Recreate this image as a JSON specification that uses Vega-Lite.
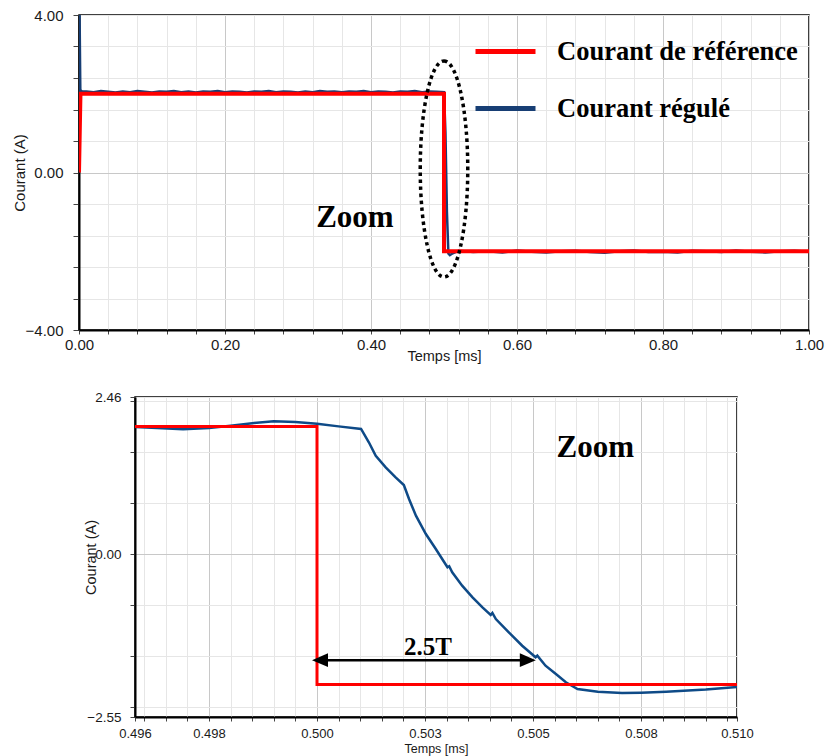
{
  "$schema": "https://vega.github.io/schema/vega-lite/v6.json",
  "padding": {"left": 11, "top": 7, "right": 5, "bottom": 2},
  "background": "white",
  "config": {
    "view": {"stroke": "#000", "strokeWidth": 1.5},
    "font": "Liberation Sans",
    "axis": {"domainColor": "#000", "domainWidth": 2, "tickColor": "#444", "labelColor": "#1a1a1a", "titleColor": "#1a1a1a", "titleFont": "Liberation Sans", "titleFontWeight": "normal", "labelFont": "Liberation Sans", "labelFlush": false, "labelOverlap": false, "gridWidth": 1, "tickCount": 1000}
  },
  "datasets": {
    "top": [
      {"t": 0, "v": 0, "s": "Courant régulé"},
      {"t": 0.0008, "v": 4.0, "s": "Courant régulé"},
      {"t": 0.0018, "v": 2.1, "s": "Courant régulé"},
      {"t": 0.004, "v": 2.06, "s": "Courant régulé"},
      {"t": 0.01, "v": 2.06, "s": "Courant régulé"},
      {"t": 0.02, "v": 2.04, "s": "Courant régulé"},
      {"t": 0.03, "v": 2.07, "s": "Courant régulé"},
      {"t": 0.04, "v": 2.05, "s": "Courant régulé"},
      {"t": 0.05, "v": 2.03, "s": "Courant régulé"},
      {"t": 0.06, "v": 2.06, "s": "Courant régulé"},
      {"t": 0.07, "v": 2.04, "s": "Courant régulé"},
      {"t": 0.08, "v": 2.07, "s": "Courant régulé"},
      {"t": 0.09, "v": 2.05, "s": "Courant régulé"},
      {"t": 0.10, "v": 2.03, "s": "Courant régulé"},
      {"t": 0.11, "v": 2.06, "s": "Courant régulé"},
      {"t": 0.12, "v": 2.05, "s": "Courant régulé"},
      {"t": 0.13, "v": 2.07, "s": "Courant régulé"},
      {"t": 0.14, "v": 2.04, "s": "Courant régulé"},
      {"t": 0.15, "v": 2.06, "s": "Courant régulé"},
      {"t": 0.16, "v": 2.03, "s": "Courant régulé"},
      {"t": 0.17, "v": 2.06, "s": "Courant régulé"},
      {"t": 0.18, "v": 2.05, "s": "Courant régulé"},
      {"t": 0.19, "v": 2.07, "s": "Courant régulé"},
      {"t": 0.20, "v": 2.04, "s": "Courant régulé"},
      {"t": 0.21, "v": 2.06, "s": "Courant régulé"},
      {"t": 0.22, "v": 2.05, "s": "Courant régulé"},
      {"t": 0.23, "v": 2.03, "s": "Courant régulé"},
      {"t": 0.24, "v": 2.06, "s": "Courant régulé"},
      {"t": 0.25, "v": 2.05, "s": "Courant régulé"},
      {"t": 0.26, "v": 2.07, "s": "Courant régulé"},
      {"t": 0.27, "v": 2.04, "s": "Courant régulé"},
      {"t": 0.28, "v": 2.06, "s": "Courant régulé"},
      {"t": 0.29, "v": 2.05, "s": "Courant régulé"},
      {"t": 0.30, "v": 2.03, "s": "Courant régulé"},
      {"t": 0.31, "v": 2.06, "s": "Courant régulé"},
      {"t": 0.32, "v": 2.04, "s": "Courant régulé"},
      {"t": 0.33, "v": 2.07, "s": "Courant régulé"},
      {"t": 0.34, "v": 2.05, "s": "Courant régulé"},
      {"t": 0.35, "v": 2.06, "s": "Courant régulé"},
      {"t": 0.36, "v": 2.04, "s": "Courant régulé"},
      {"t": 0.37, "v": 2.06, "s": "Courant régulé"},
      {"t": 0.38, "v": 2.05, "s": "Courant régulé"},
      {"t": 0.39, "v": 2.07, "s": "Courant régulé"},
      {"t": 0.40, "v": 2.04, "s": "Courant régulé"},
      {"t": 0.41, "v": 2.06, "s": "Courant régulé"},
      {"t": 0.42, "v": 2.05, "s": "Courant régulé"},
      {"t": 0.43, "v": 2.03, "s": "Courant régulé"},
      {"t": 0.44, "v": 2.06, "s": "Courant régulé"},
      {"t": 0.45, "v": 2.05, "s": "Courant régulé"},
      {"t": 0.46, "v": 2.07, "s": "Courant régulé"},
      {"t": 0.47, "v": 2.04, "s": "Courant régulé"},
      {"t": 0.48, "v": 2.06, "s": "Courant régulé"},
      {"t": 0.49, "v": 2.05, "s": "Courant régulé"},
      {"t": 0.5, "v": 2.04, "s": "Courant régulé"},
      {"t": 0.502, "v": 1.0, "s": "Courant régulé"},
      {"t": 0.504, "v": -1.0, "s": "Courant régulé"},
      {"t": 0.506, "v": -2.06, "s": "Courant régulé"},
      {"t": 0.508, "v": -2.1, "s": "Courant régulé"},
      {"t": 0.512, "v": -2.05, "s": "Courant régulé"},
      {"t": 0.52, "v": -1.99, "s": "Courant régulé"},
      {"t": 0.54, "v": -2.02, "s": "Courant régulé"},
      {"t": 0.56, "v": -2.0, "s": "Courant régulé"},
      {"t": 0.58, "v": -2.03, "s": "Courant régulé"},
      {"t": 0.60, "v": -1.98, "s": "Courant régulé"},
      {"t": 0.62, "v": -2.01, "s": "Courant régulé"},
      {"t": 0.64, "v": -2.03, "s": "Courant régulé"},
      {"t": 0.66, "v": -2.0, "s": "Courant régulé"},
      {"t": 0.68, "v": -1.99, "s": "Courant régulé"},
      {"t": 0.70, "v": -2.02, "s": "Courant régulé"},
      {"t": 0.72, "v": -2.04, "s": "Courant régulé"},
      {"t": 0.74, "v": -2.0, "s": "Courant régulé"},
      {"t": 0.76, "v": -1.98, "s": "Courant régulé"},
      {"t": 0.78, "v": -2.02, "s": "Courant régulé"},
      {"t": 0.80, "v": -2.01, "s": "Courant régulé"},
      {"t": 0.82, "v": -2.03, "s": "Courant régulé"},
      {"t": 0.84, "v": -1.99, "s": "Courant régulé"},
      {"t": 0.86, "v": -2.0, "s": "Courant régulé"},
      {"t": 0.88, "v": -2.02, "s": "Courant régulé"},
      {"t": 0.90, "v": -1.98, "s": "Courant régulé"},
      {"t": 0.92, "v": -2.01, "s": "Courant régulé"},
      {"t": 0.94, "v": -2.03, "s": "Courant régulé"},
      {"t": 0.96, "v": -2.0, "s": "Courant régulé"},
      {"t": 0.98, "v": -1.99, "s": "Courant régulé"},
      {"t": 1.0, "v": -2.01, "s": "Courant régulé"},
      {"t": 0, "v": 0, "s": "Courant de référence", "i": 0},
      {"t": 0.002, "v": 2.0, "s": "Courant de référence", "i": 1},
      {"t": 0.5, "v": 2.0, "s": "Courant de référence", "i": 2},
      {"t": 0.5, "v": -2.0, "s": "Courant de référence", "i": 3},
      {"t": 1.0, "v": -2.0, "s": "Courant de référence", "i": 4}
    ],
    "zoom": [
      {"t": 0.495787, "v": 1.99, "s": "Courant régulé"},
      {"t": 0.4963, "v": 1.975, "s": "Courant régulé"},
      {"t": 0.4969, "v": 1.955, "s": "Courant régulé"},
      {"t": 0.4975, "v": 1.975, "s": "Courant régulé"},
      {"t": 0.498, "v": 2.01, "s": "Courant régulé"},
      {"t": 0.4985, "v": 2.05, "s": "Courant régulé"},
      {"t": 0.499, "v": 2.08, "s": "Courant régulé"},
      {"t": 0.4995, "v": 2.07, "s": "Courant régulé"},
      {"t": 0.5, "v": 2.04, "s": "Courant régulé"},
      {"t": 0.5005, "v": 2.0, "s": "Courant régulé"},
      {"t": 0.50102, "v": 1.96, "s": "Courant régulé"},
      {"t": 0.5012, "v": 1.751, "s": "Courant régulé"},
      {"t": 0.50136, "v": 1.541, "s": "Courant régulé"},
      {"t": 0.50159, "v": 1.359, "s": "Courant régulé"},
      {"t": 0.50182, "v": 1.203, "s": "Courant régulé"},
      {"t": 0.50201, "v": 1.082, "s": "Courant régulé"},
      {"t": 0.50213, "v": 0.863, "s": "Courant régulé"},
      {"t": 0.50229, "v": 0.602, "s": "Courant régulé"},
      {"t": 0.50252, "v": 0.315, "s": "Courant régulé"},
      {"t": 0.50275, "v": 0.08, "s": "Courant régulé"},
      {"t": 0.50302, "v": -0.206, "s": "Courant régulé"},
      {"t": 0.50306, "v": -0.19, "s": "Courant régulé"},
      {"t": 0.50313, "v": -0.285, "s": "Courant régulé"},
      {"t": 0.50336, "v": -0.494, "s": "Courant régulé"},
      {"t": 0.5036, "v": -0.676, "s": "Courant régulé"},
      {"t": 0.50383, "v": -0.833, "s": "Courant régulé"},
      {"t": 0.50402, "v": -0.953, "s": "Courant régulé"},
      {"t": 0.50406, "v": -0.92, "s": "Courant régulé"},
      {"t": 0.50414, "v": -1.016, "s": "Courant régulé"},
      {"t": 0.50444, "v": -1.224, "s": "Courant régulé"},
      {"t": 0.50475, "v": -1.434, "s": "Courant régulé"},
      {"t": 0.50506, "v": -1.615, "s": "Courant régulé"},
      {"t": 0.5051, "v": -1.59, "s": "Courant régulé"},
      {"t": 0.50529, "v": -1.747, "s": "Courant régulé"},
      {"t": 0.50553, "v": -1.877, "s": "Courant régulé"},
      {"t": 0.50576, "v": -2.007, "s": "Courant régulé"},
      {"t": 0.50603, "v": -2.112, "s": "Courant régulé"},
      {"t": 0.5065, "v": -2.155, "s": "Courant régulé"},
      {"t": 0.50706, "v": -2.175, "s": "Courant régulé"},
      {"t": 0.5075, "v": -2.17, "s": "Courant régulé"},
      {"t": 0.50808, "v": -2.155, "s": "Courant régulé"},
      {"t": 0.509, "v": -2.12, "s": "Courant régulé"},
      {"t": 0.509722, "v": -2.08, "s": "Courant régulé"},
      {"t": 0.495787, "v": 2.0, "s": "Courant de référence", "i": 0},
      {"t": 0.5, "v": 2.0, "s": "Courant de référence", "i": 1},
      {"t": 0.5, "v": -2.04, "s": "Courant de référence", "i": 2},
      {"t": 0.509722, "v": -2.04, "s": "Courant de référence", "i": 3}
    ]
  },
  "spacing": 67,
  "bounds": "flush",
  "vconcat": [
    {
      "width": 730,
      "height": 315,
      "layer": [
        {
          "data": {"name": "top"},
          "transform": [{"filter": "datum.s == 'Courant régulé'"}],
          "mark": {"type": "line", "strokeWidth": 2.5, "clip": true},
          "encoding": {
            "x": {"field": "t", "type": "quantitative", "scale": {"domain": [0, 1], "nice": false, "zero": false},
              "axis": {"values": [0,0.04,0.08,0.12,0.16,0.2,0.24,0.28,0.32,0.36,0.4,0.44,0.48,0.52,0.56,0.6,0.64,0.68,0.72,0.76,0.8,0.84,0.88,0.92,0.96,1],
                "tickCount": 1000, "labelOverlap": false,
                "title": "Temps [ms]", "titleFontSize": 14.5, "titleY": 19, "labelFontSize": 15, "tickSize": 4, "labelPadding": 3,
                "labelExpr": "abs(datum.value*5 - round(datum.value*5)) < 1e-6 ? format(datum.value, '.2f') : ''",
                "gridColor": {"condition": {"test": "abs(datum.value*5 - round(datum.value*5)) < 1e-6", "value": "#c8c8c8"}, "value": "#e6e6e6"}}},
            "y": {"field": "v", "type": "quantitative", "scale": {"domain": [-4, 4], "nice": false, "zero": false},
              "axis": {"values": [-4,-3.2,-2.4,-1.6,-0.8,0,0.8,1.6,2.4,3.2,4],
                "tickCount": 1000, "labelOverlap": false,
                "title": "Courant (A)", "titleFontSize": 15, "titleX": -52, "labelFontSize": 15, "tickSize": 6, "labelPadding": 10,
                "labelExpr": "(abs(datum.value) < 1e-6 || abs(abs(datum.value) - 4) < 1e-6) ? format(datum.value, '.2f') : ''",
                "gridColor": {"condition": {"test": "abs(datum.value) < 1e-6", "value": "#c8c8c8"}, "value": "#e6e6e6"}}},
            "color": {"field": "s", "type": "nominal",
              "scale": {"domain": ["Courant de référence", "Courant régulé"], "range": ["#ff0000", "#173e74"]},
              "legend": {"orient": "none", "legendX": 394, "legendY": 4, "title": null, "symbolType": "stroke", "symbolSize": 3600, "symbolStrokeWidth": 5,
                "labelFont": "Liberation Serif", "labelFontWeight": "bold", "labelFontSize": 26.5, "labelColor": "#000", "labelOffset": 19, "rowPadding": 11, "padding": 0, "labelLimit": 500}}
          }
        },
        {
          "data": {"name": "top"},
          "transform": [{"filter": "datum.s == 'Courant de référence'"}],
          "mark": {"type": "line", "strokeWidth": 4, "clip": true},
          "encoding": {
            "x": {"field": "t", "type": "quantitative"},
            "y": {"field": "v", "type": "quantitative"},
            "color": {"field": "s", "type": "nominal"},
            "order": {"field": "i", "type": "quantitative"}
          }
        },
        {
          "data": {"values": [{"a": 1}]},
          "mark": {"type": "point", "shape": "M0,-1C0.1215,-1,0.22,-0.5523,0.22,0C0.22,0.5523,0.1215,1,0,1C-0.1215,1,-0.22,0.5523,-0.22,0C-0.22,-0.5523,-0.1215,-1,0,-1Z",
            "size": 46656, "filled": false, "stroke": "#000", "strokeWidth": 3.5, "strokeDash": [3.5, 3.5], "opacity": 1},
          "encoding": {"x": {"datum": 0.5, "type": "quantitative"}, "y": {"datum": 0.09, "type": "quantitative"}}
        },
        {
          "data": {"values": [{"a": 1}]},
          "mark": {"type": "text", "text": "Zoom", "font": "Liberation Serif", "fontWeight": "bold", "fontSize": 31, "color": "#000", "align": "center", "baseline": "middle"},
          "encoding": {"x": {"datum": 0.378, "type": "quantitative"}, "y": {"datum": -1.15, "type": "quantitative"}}
        }
      ]
    },
    {
      "hconcat": [
        {
          "width": 56,
          "height": 320,
          "view": {"stroke": null},
          "data": {"values": [{"a": 1}]},
          "mark": {"type": "text", "text": ""}
        },
        {
          "width": 602,
          "height": 320,
          "layer": [
            {
              "data": {"name": "zoom"},
              "transform": [{"filter": "datum.s == 'Courant régulé'"}],
              "mark": {"type": "line", "strokeWidth": 2.5, "color": "#0e4a87", "clip": true},
              "encoding": {
                "x": {"field": "t", "type": "quantitative", "scale": {"domain": [0.495787, 0.509722], "nice": false, "zero": false},
                  "axis": {"values": [0.495787,0.496,0.4965,0.497,0.4975,0.498,0.4985,0.499,0.4995,0.5,0.5005,0.501,0.5015,0.502,0.5025,0.503,0.5035,0.504,0.5045,0.505,0.5055,0.506,0.5065,0.507,0.5075,0.508,0.5085,0.509,0.5095,0.509722],
                    "tickCount": 1000, "labelOverlap": false,
                    "title": "Temps [ms]", "titleFontSize": 12.5, "titleY": 25, "labelFontSize": 13, "tickSize": 4, "labelPadding": 6,
                    "labelExpr": "(datum.value < 0.4958 || datum.value > 0.5097 || abs(datum.value*400 - round(datum.value*400)) < 1e-6) ? format(datum.value + 1e-9, '.3f') : ''",
                    "gridColor": {"condition": {"test": "abs(datum.value*400 - round(datum.value*400)) < 1e-6", "value": "#c8c8c8"}, "value": "#e6e6e6"}}},
                "y": {"field": "v", "type": "quantitative", "scale": {"domain": [-2.55, 2.46], "nice": false, "zero": false},
                  "axis": {"values": [-2.55,-2.4,-1.6,-0.8,0,0.8,1.6,2.4,2.46],
                    "tickCount": 1000, "labelOverlap": false,
                    "title": "Courant (A)", "titleFontSize": 14.5, "titleX": -37, "labelFontSize": 13.5, "tickSize": 5, "labelPadding": 9,
                    "labelExpr": "(abs(datum.value) < 1e-6 || datum.value < -2.5 || datum.value > 2.45) ? format(datum.value, '.2f') : ''",
                    "gridColor": {"condition": {"test": "abs(datum.value) < 1e-6", "value": "#c8c8c8"}, "value": "#e6e6e6"}}}
              }
            },
            {
              "data": {"name": "zoom"},
              "transform": [{"filter": "datum.s == 'Courant de référence'"}],
              "mark": {"type": "line", "strokeWidth": 3, "color": "#ff0000", "clip": true},
              "encoding": {
                "x": {"field": "t", "type": "quantitative"},
                "y": {"field": "v", "type": "quantitative"},
                "order": {"field": "i", "type": "quantitative"}
              }
            },
            {
              "data": {"values": [{"a": 1}]},
              "mark": {"type": "rule", "color": "#000", "strokeWidth": 2.5},
              "encoding": {"x": {"datum": 0.5001, "type": "quantitative"}, "x2": {"datum": 0.5048}, "y": {"datum": -1.66, "type": "quantitative"}}
            },
            {
              "data": {"values": [{"a": 1}]},
              "mark": {"type": "point", "shape": "M-1,0L1,-0.85L1,0.85Z", "size": 256, "filled": true, "color": "#000", "strokeWidth": 0, "opacity": 1},
              "encoding": {"x": {"datum": 0.50007, "type": "quantitative"}, "y": {"datum": -1.66, "type": "quantitative"}}
            },
            {
              "data": {"values": [{"a": 1}]},
              "mark": {"type": "point", "shape": "M1,0L-1,-0.85L-1,0.85Z", "size": 256, "filled": true, "color": "#000", "strokeWidth": 0, "opacity": 1},
              "encoding": {"x": {"datum": 0.50488, "type": "quantitative"}, "y": {"datum": -1.66, "type": "quantitative"}}
            },
            {
              "data": {"values": [{"a": 1}]},
              "mark": {"type": "text", "text": "2.5T", "font": "Liberation Serif", "fontWeight": "bold", "fontSize": 25, "color": "#000", "align": "center", "baseline": "middle"},
              "encoding": {"x": {"datum": 0.50257, "type": "quantitative"}, "y": {"datum": -1.454, "type": "quantitative"}}
            },
            {
              "data": {"values": [{"a": 1}]},
              "mark": {"type": "text", "text": "Zoom", "font": "Liberation Serif", "fontWeight": "bold", "fontSize": 31, "color": "#000", "align": "center", "baseline": "middle"},
              "encoding": {"x": {"datum": 0.50644, "type": "quantitative"}, "y": {"datum": 1.66, "type": "quantitative"}}
            }
          ]
        }
      ],
      "spacing": 0,
      "bounds": "flush"
    }
  ]
}
